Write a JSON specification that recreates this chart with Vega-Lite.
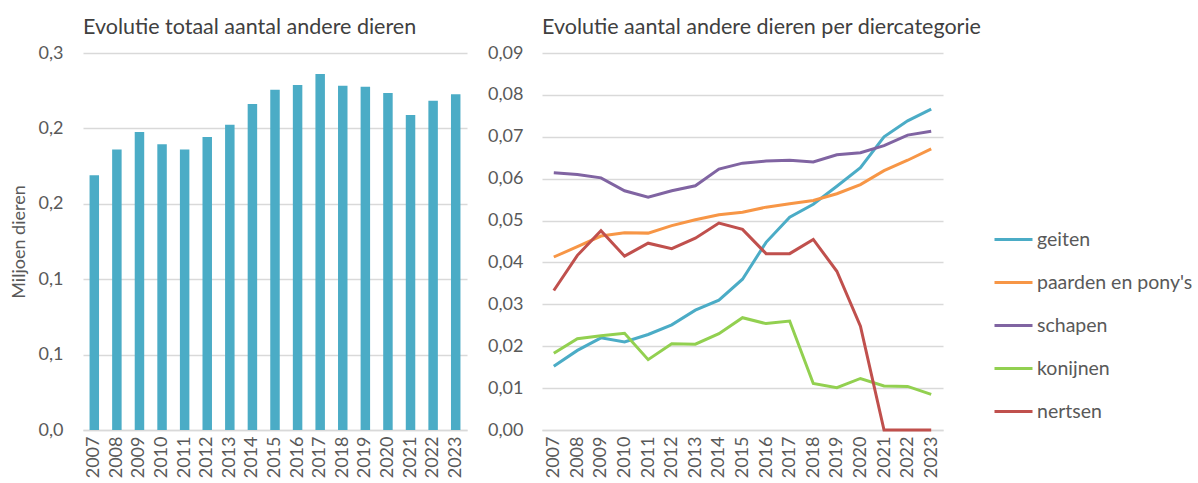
{
  "$schema": "https://vega.github.io/schema/vega-lite/v6.json",
  "padding": {"left": 10, "top": 16, "right": 0, "bottom": 0},
  "background": "white",
  "datasets": {
    "totaal": [
      {"jaar": "2007", "aantal": 0.2028},
      {"jaar": "2008", "aantal": 0.2233},
      {"jaar": "2009", "aantal": 0.2371},
      {"jaar": "2010", "aantal": 0.2273},
      {"jaar": "2011", "aantal": 0.2233},
      {"jaar": "2012", "aantal": 0.2331},
      {"jaar": "2013", "aantal": 0.2429},
      {"jaar": "2014", "aantal": 0.2594},
      {"jaar": "2015", "aantal": 0.2708},
      {"jaar": "2016", "aantal": 0.2745},
      {"jaar": "2017", "aantal": 0.2833},
      {"jaar": "2018", "aantal": 0.2740},
      {"jaar": "2019", "aantal": 0.2732},
      {"jaar": "2020", "aantal": 0.2681},
      {"jaar": "2021", "aantal": 0.2506},
      {"jaar": "2022", "aantal": 0.2620},
      {"jaar": "2023", "aantal": 0.2671}
    ],
    "categorie": [
      {"jaar": "2007", "categorie": "geiten", "aantal": 0.0152},
      {"jaar": "2008", "categorie": "geiten", "aantal": 0.0190},
      {"jaar": "2009", "categorie": "geiten", "aantal": 0.0220},
      {"jaar": "2010", "categorie": "geiten", "aantal": 0.0210},
      {"jaar": "2011", "categorie": "geiten", "aantal": 0.0228},
      {"jaar": "2012", "categorie": "geiten", "aantal": 0.0251},
      {"jaar": "2013", "categorie": "geiten", "aantal": 0.0286},
      {"jaar": "2014", "categorie": "geiten", "aantal": 0.0310},
      {"jaar": "2015", "categorie": "geiten", "aantal": 0.0360},
      {"jaar": "2016", "categorie": "geiten", "aantal": 0.0448},
      {"jaar": "2017", "categorie": "geiten", "aantal": 0.0508},
      {"jaar": "2018", "categorie": "geiten", "aantal": 0.0539},
      {"jaar": "2019", "categorie": "geiten", "aantal": 0.0582},
      {"jaar": "2020", "categorie": "geiten", "aantal": 0.0626},
      {"jaar": "2021", "categorie": "geiten", "aantal": 0.0700},
      {"jaar": "2022", "categorie": "geiten", "aantal": 0.0738},
      {"jaar": "2023", "categorie": "geiten", "aantal": 0.0766},
      {"jaar": "2007", "categorie": "paarden en pony's", "aantal": 0.0413},
      {"jaar": "2008", "categorie": "paarden en pony's", "aantal": 0.0438},
      {"jaar": "2009", "categorie": "paarden en pony's", "aantal": 0.0463},
      {"jaar": "2010", "categorie": "paarden en pony's", "aantal": 0.0471},
      {"jaar": "2011", "categorie": "paarden en pony's", "aantal": 0.0470},
      {"jaar": "2012", "categorie": "paarden en pony's", "aantal": 0.0488},
      {"jaar": "2013", "categorie": "paarden en pony's", "aantal": 0.0502},
      {"jaar": "2014", "categorie": "paarden en pony's", "aantal": 0.0514},
      {"jaar": "2015", "categorie": "paarden en pony's", "aantal": 0.0520},
      {"jaar": "2016", "categorie": "paarden en pony's", "aantal": 0.0532},
      {"jaar": "2017", "categorie": "paarden en pony's", "aantal": 0.0540},
      {"jaar": "2018", "categorie": "paarden en pony's", "aantal": 0.0548},
      {"jaar": "2019", "categorie": "paarden en pony's", "aantal": 0.0564},
      {"jaar": "2020", "categorie": "paarden en pony's", "aantal": 0.0586},
      {"jaar": "2021", "categorie": "paarden en pony's", "aantal": 0.0619},
      {"jaar": "2022", "categorie": "paarden en pony's", "aantal": 0.0644},
      {"jaar": "2023", "categorie": "paarden en pony's", "aantal": 0.0671},
      {"jaar": "2007", "categorie": "schapen", "aantal": 0.0614},
      {"jaar": "2008", "categorie": "schapen", "aantal": 0.0610},
      {"jaar": "2009", "categorie": "schapen", "aantal": 0.0602},
      {"jaar": "2010", "categorie": "schapen", "aantal": 0.0571},
      {"jaar": "2011", "categorie": "schapen", "aantal": 0.0556},
      {"jaar": "2012", "categorie": "schapen", "aantal": 0.0571},
      {"jaar": "2013", "categorie": "schapen", "aantal": 0.0583},
      {"jaar": "2014", "categorie": "schapen", "aantal": 0.0623},
      {"jaar": "2015", "categorie": "schapen", "aantal": 0.0637},
      {"jaar": "2016", "categorie": "schapen", "aantal": 0.0642},
      {"jaar": "2017", "categorie": "schapen", "aantal": 0.0644},
      {"jaar": "2018", "categorie": "schapen", "aantal": 0.0640},
      {"jaar": "2019", "categorie": "schapen", "aantal": 0.0657},
      {"jaar": "2020", "categorie": "schapen", "aantal": 0.0662},
      {"jaar": "2021", "categorie": "schapen", "aantal": 0.0679},
      {"jaar": "2022", "categorie": "schapen", "aantal": 0.0704},
      {"jaar": "2023", "categorie": "schapen", "aantal": 0.0713},
      {"jaar": "2007", "categorie": "konijnen", "aantal": 0.0183},
      {"jaar": "2008", "categorie": "konijnen", "aantal": 0.0218},
      {"jaar": "2009", "categorie": "konijnen", "aantal": 0.0225},
      {"jaar": "2010", "categorie": "konijnen", "aantal": 0.0231},
      {"jaar": "2011", "categorie": "konijnen", "aantal": 0.0168},
      {"jaar": "2012", "categorie": "konijnen", "aantal": 0.0206},
      {"jaar": "2013", "categorie": "konijnen", "aantal": 0.0205},
      {"jaar": "2014", "categorie": "konijnen", "aantal": 0.0230},
      {"jaar": "2015", "categorie": "konijnen", "aantal": 0.0268},
      {"jaar": "2016", "categorie": "konijnen", "aantal": 0.0254},
      {"jaar": "2017", "categorie": "konijnen", "aantal": 0.0260},
      {"jaar": "2018", "categorie": "konijnen", "aantal": 0.0111},
      {"jaar": "2019", "categorie": "konijnen", "aantal": 0.0101},
      {"jaar": "2020", "categorie": "konijnen", "aantal": 0.0123},
      {"jaar": "2021", "categorie": "konijnen", "aantal": 0.0105},
      {"jaar": "2022", "categorie": "konijnen", "aantal": 0.0104},
      {"jaar": "2023", "categorie": "konijnen", "aantal": 0.0085},
      {"jaar": "2007", "categorie": "nertsen", "aantal": 0.0333},
      {"jaar": "2008", "categorie": "nertsen", "aantal": 0.0417},
      {"jaar": "2009", "categorie": "nertsen", "aantal": 0.0476},
      {"jaar": "2010", "categorie": "nertsen", "aantal": 0.0415},
      {"jaar": "2011", "categorie": "nertsen", "aantal": 0.0446},
      {"jaar": "2012", "categorie": "nertsen", "aantal": 0.0433},
      {"jaar": "2013", "categorie": "nertsen", "aantal": 0.0458},
      {"jaar": "2014", "categorie": "nertsen", "aantal": 0.0494},
      {"jaar": "2015", "categorie": "nertsen", "aantal": 0.0479},
      {"jaar": "2016", "categorie": "nertsen", "aantal": 0.0421},
      {"jaar": "2017", "categorie": "nertsen", "aantal": 0.0421},
      {"jaar": "2018", "categorie": "nertsen", "aantal": 0.0455},
      {"jaar": "2019", "categorie": "nertsen", "aantal": 0.0379},
      {"jaar": "2020", "categorie": "nertsen", "aantal": 0.0248},
      {"jaar": "2021", "categorie": "nertsen", "aantal": 0.0},
      {"jaar": "2022", "categorie": "nertsen", "aantal": 0.0},
      {"jaar": "2023", "categorie": "nertsen", "aantal": 0.0}
    ]
  },
  "spacing": 20,
  "hconcat": [
    {
      "width": 384,
      "height": 377,
      "data": {"name": "totaal"},
      "title": {"text": "Evolutie totaal aantal andere dieren", "anchor": "start", "frame": "group", "offset": 6},
      "mark": {"type": "bar", "color": "#4bacc6"},
      "encoding": {
        "x": {
          "field": "jaar", "type": "ordinal",
          "scale": {"paddingInner": 0.58, "paddingOuter": 0.29},
          "axis": {"title": null, "labelAngle": -90, "labelAlign": "right", "labelBaseline": "middle", "labelPadding": 6, "ticks": false, "domain": true, "domainColor": "#d9d9d9", "domainWidth": 1.5}
        },
        "y": {
          "field": "aantal", "type": "quantitative",
          "scale": {"domain": [0, 0.3], "nice": false},
          "axis": {
            "title": "Miljoen dieren",
            "values": [0, 0.06, 0.12, 0.18, 0.24, 0.3],
            "labelExpr": "replace(format(datum.value, '.1f'), '.', ',')",
            "domain": false, "ticks": false, "labelPadding": 20, "titlePadding": 10,
            "grid": true, "gridColor": "#d9d9d9", "gridWidth": 1.5
          }
        }
      }
    },
    {
      "width": 401,
      "height": 377,
      "data": {"name": "categorie"},
      "title": {"text": "Evolutie aantal andere dieren per diercategorie", "anchor": "start", "frame": "group", "offset": 6},
      "mark": {"type": "line", "strokeWidth": 3},
      "encoding": {
        "x": {
          "field": "jaar", "type": "ordinal",
          "scale": {"type": "point", "padding": 0.5},
          "axis": {"title": null, "labelAngle": -90, "labelAlign": "right", "labelBaseline": "middle", "labelPadding": 6, "ticks": false, "domain": true, "domainColor": "#d9d9d9", "domainWidth": 1.5}
        },
        "y": {
          "field": "aantal", "type": "quantitative",
          "scale": {"domain": [0, 0.09], "nice": false},
          "axis": {
            "title": null,
            "values": [0, 0.01, 0.02, 0.03, 0.04, 0.05, 0.06, 0.07, 0.08, 0.09],
            "labelExpr": "replace(format(datum.value, '.2f'), '.', ',')",
            "domain": false, "ticks": false, "labelPadding": 19,
            "grid": true, "gridColor": "#d9d9d9", "gridWidth": 1.5
          }
        },
        "color": {
          "field": "categorie", "type": "nominal",
          "scale": {
            "domain": ["geiten", "paarden en pony's", "schapen", "konijnen", "nertsen"],
            "range": ["#4bacc6", "#f79646", "#8064a2", "#92d050", "#c0504d"]
          },
          "legend": {
            "title": null,
            "orient": "none",
            "legendX": 910,
            "legendY": 166,
            "symbolType": "stroke",
            "symbolSize": 1444,
            "symbolStrokeWidth": 3,
            "labelOffset": 3,
            "rowPadding": 13,
            "labelFontSize": 19.5,
            "labelColor": "#595959",
            "labelFont": "Lato",
            "labelLimit": 300
          }
        }
      }
    }
  ],
  "config": {
    "view": {"stroke": null},
    "font": "Lato",
    "title": {"fontSize": 21.5, "fontWeight": "normal", "color": "#404040", "font": "Lato"},
    "axis": {"labelFontSize": 18, "labelColor": "#595959", "labelFont": "Lato", "titleFontSize": 18, "titleFontWeight": "normal", "titleColor": "#595959", "titleFont": "Lato"}
  }
}
